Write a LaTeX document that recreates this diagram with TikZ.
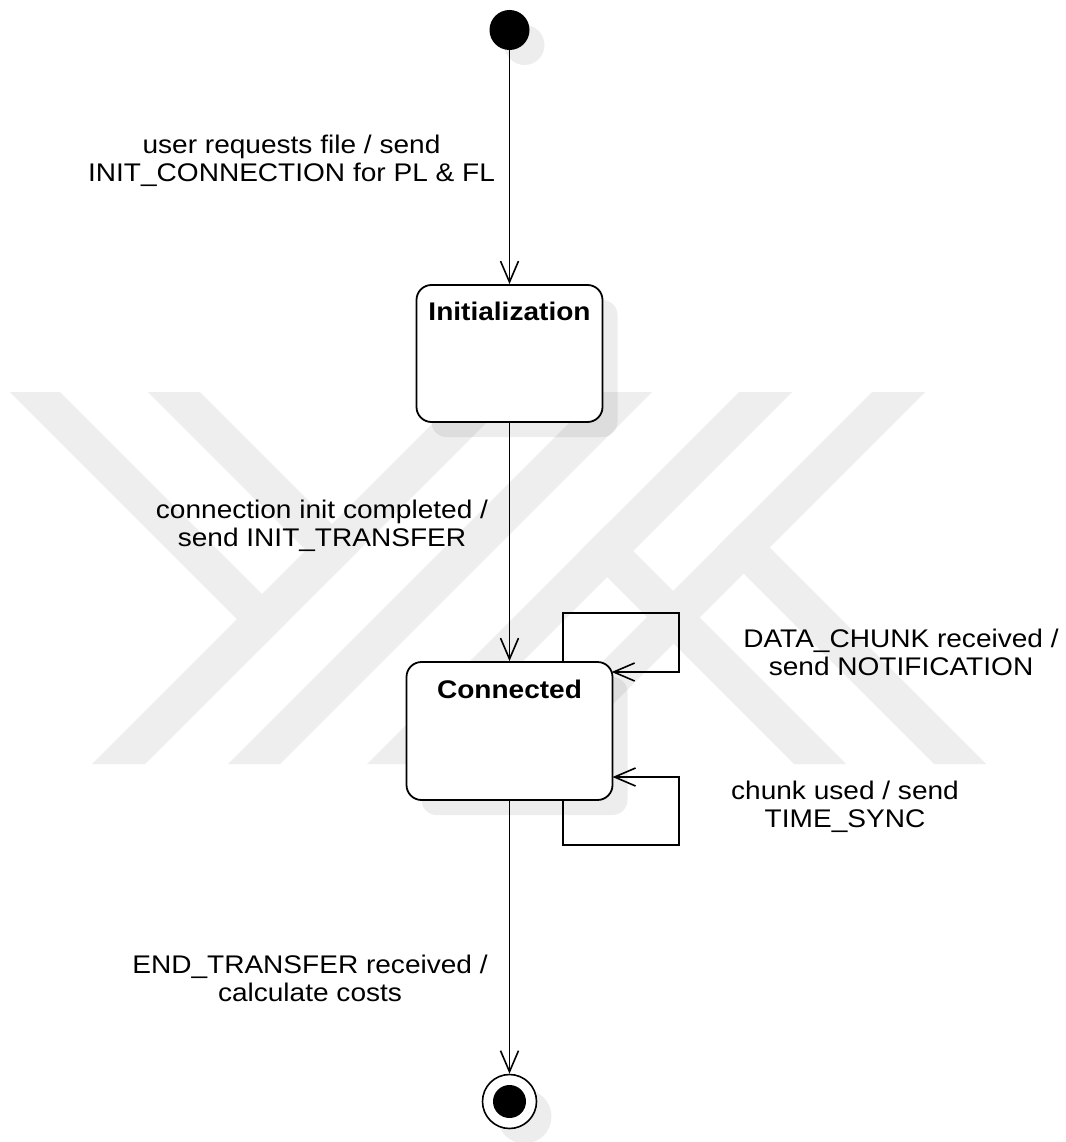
\documentclass[tikz,border=0pt]{standalone}
\usepackage{fontspec}
\setmainfont{Liberation Sans}[FakeStretch=1.1]
\usetikzlibrary{arrows.meta,shadows}
\definecolor{wm}{HTML}{EEEEEE}
\begin{document}
\begin{tikzpicture}[x=1pt,y=-1pt,
  every node/.style={font=\fontsize{25.5}{28}\selectfont},
  softshadow/.style={general shadow={fill=black, fill opacity=0.07, shadow xshift=15pt, shadow yshift=-15pt}},
  statebox/.style={draw, line width=1.8pt, rounded corners=15pt, fill=white, inner sep=0pt, softshadow},
  statetitle/.style={font=\fontsize{25.5}{28}\selectfont\bfseries, anchor=base, inner sep=0pt},
  lbl/.style={align=center, inner sep=0pt},
  trans/.style={draw, line width=1.7pt, -{Straight Barb[length=21pt, width=18pt, line width=1.6pt]}},
  loopline/.style={draw, line width=1.8pt, -{Straight Barb[length=21pt, width=18pt, line width=1.6pt]}},
]
% page and background
\useasboundingbox (0,0) rectangle (1065,1142);
\fill[white] (0,0) rectangle (1065,1142);

% faint background emblem made of diagonal bands
\fill[wm] (464,392) -- (517,392) -- (145,764) -- (92,764) -- cycle;
\fill[wm] (600,392) -- (652,392) -- (280,764) -- (228,764) -- cycle;
\fill[wm] (739,392) -- (792,392) -- (420,764) -- (367,764) -- cycle;
\fill[wm] (872,392) -- (925,392) -- (553,764) -- (500,764) -- cycle;
\fill[wm] (10,392) -- (60,392) -- (288.5,620.5) -- (263.5,645.5) -- cycle;
\fill[wm] (148,392) -- (200,392) -- (358.5,550.5) -- (332.5,576.5) -- cycle;
\fill[wm] (794,764) -- (846,764) -- (606.5,524.5) -- (580.5,550.5) -- cycle;
\fill[wm] (934,764) -- (986,764) -- (743,521) -- (717,547) -- cycle;

% initial and final pseudo-states
\node[circle, fill=black, minimum size=40pt, inner sep=0pt, softshadow] (start) at (509.5,30) {};
\node[circle, draw, line width=1.6pt, fill=white, minimum size=54pt, inner sep=0pt, softshadow] (end) at (509.5,1101.5) {};
\node[circle, fill=black, minimum size=33pt, inner sep=0pt] (endDot) at (end.center) {};

% states
\node[statebox, minimum width=186pt, minimum height=137pt] (init) at (509.5,353.5) {};
\node[statetitle] (initTitle) at (509.5,320) {Initialization};
\node[statebox, minimum width=206pt, minimum height=138pt] (conn) at (509.5,731) {};
\node[statetitle] (connTitle) at (509.5,698) {Connected};

% transitions
\draw[trans] (start) -- (init);
\draw[trans] (init) -- (conn);
\draw[trans] (conn) -- (end);

% self transitions on Connected
\coordinate (loopA) at (611.6,672);
\coordinate (loopB) at (612.5,777);
\draw[loopline] ([xshift=53.5pt]conn.north) -- (563,613) -- (679,613) -- (679,672) -- (loopA);
\draw[loopline] ([xshift=53.5pt]conn.south) -- (563,845) -- (679,845) -- (679,777) -- (loopB);

% transition labels
\node[lbl] (lblStart) at (291.5,161) {user requests file / send\\INIT\_CONNECTION for PL \& FL};
\node[lbl] (lblInit) at (322,525.5) {connection init completed /\\send INIT\_TRANSFER};
\node[lbl] (lblData) at (901,652.5) {DATA\_CHUNK received /\\send NOTIFICATION};
\node[lbl] (lblChunk) at (845,807) {chunk used / send\\TIME\_SYNC};
\node[lbl] (lblEnd) at (310,978) {END\_TRANSFER received /\\calculate costs};
\end{tikzpicture}
\end{document}
